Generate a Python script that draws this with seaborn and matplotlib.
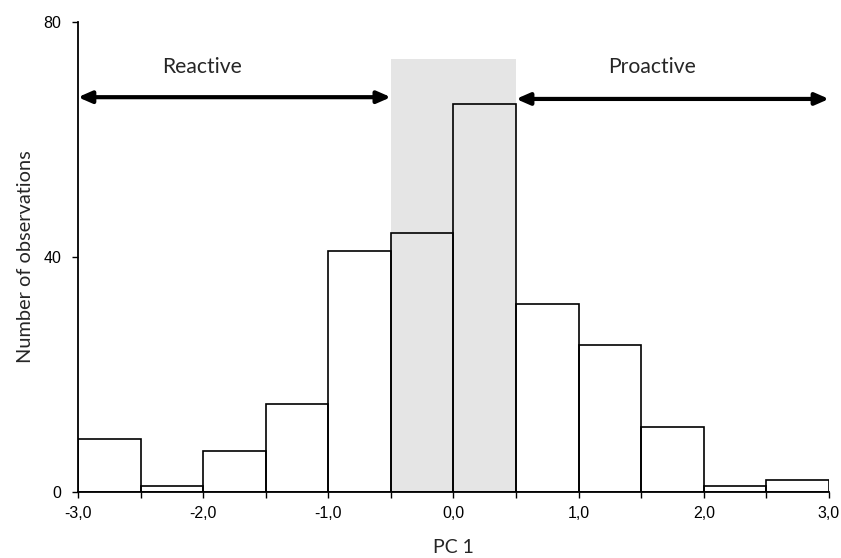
import matplotlib
matplotlib.use("Agg")
import matplotlib.pyplot as plt
import seaborn as sns
import numpy as np

# histogram of PC 1 scores (bin width 0.5)
bin_edges = [-3.0, -2.5, -2.0, -1.5, -1.0, -0.5, 0.0, 0.5, 1.0, 1.5, 2.0, 2.5, 3.0]
counts = [9, 1, 7, 15, 41, 44, 66, 32, 25, 11, 1, 2]

tick_values = [-3, -2, -1, 0, 1, 2, 3]
tick_labels = ["-3,0", "-2,0", "-1,0", "0,0", "1,0", "2,0", "3,0"]
y_ticks = [0, 40, 80]

# shaded intermediate zone and the two arrows
shade_range = [-0.5, 0.5]
shade_top = 73.7
reactive_span = [-3.0, -0.5]
proactive_span = [0.5, 3.0]
arrow_y = [67.2, 66.9]
label_x = [-2.01, 1.59]
label_y = 72.3

sns.set_style("white")
plt.rcParams['font.family'] = ['Liberation Sans', 'DejaVu Sans']

fig = plt.figure(figsize=(8.41, 5.58), dpi=100)
ax = fig.add_axes([0.0927, 0.1183, 0.8930, 0.8423])

# grey band behind the middle bars
ax.fill_between(shade_range, 0, shade_top, color="#e5e5e5", lw=0, zorder=0)

centers = (np.array(bin_edges[:-1]) + np.array(bin_edges[1:])) / 2
sns.histplot(x=centers, weights=counts, bins=bin_edges, fill=False,
             element="bars", color="black", linewidth=1.2, ax=ax, zorder=2)

ax.set_xlim(-3, 3)
ax.set_ylim(0, 80)

ax.set_xticks(bin_edges)
ax.set_xticklabels([tick_labels[tick_values.index(int(v))] if float(v).is_integer() else ""
                    for v in bin_edges])
ax.set_yticks(y_ticks)
ax.set_yticklabels([str(v) for v in y_ticks])
ax.tick_params(axis="both", direction="out", length=4, width=1, colors="black",
               labelsize=11.5, bottom=True, left=True)
ax.tick_params(axis="x", pad=6)
ax.tick_params(axis="y", pad=8)

sns.despine(ax=ax)
for side in ["left", "bottom"]:
    ax.spines[side].set_color("black")
    ax.spines[side].set_linewidth(1.3)

label_font = ['Lato', 'DejaVu Sans']
ax.set_xlabel("PC 1", fontsize=14, family=label_font, labelpad=13)
ax.set_ylabel("Number of observations", fontsize=14.4, family=label_font, labelpad=7)

# arrows
for span, y in zip([reactive_span, proactive_span], arrow_y):
    ax.annotate("", xy=(span[0], y), xytext=(span[1], y),
                arrowprops=dict(arrowstyle="<|-|>,head_length=0.8,head_width=0.35",
                                color="black", lw=3, shrinkA=0, shrinkB=0),
                zorder=3)

ax.text(label_x[0], label_y, "Reactive", fontsize=15.2, family=label_font,
        ha="center", va="center")
ax.text(label_x[1], label_y, "Proactive", fontsize=15.2, family=label_font,
        ha="center", va="center")

plt.savefig("out.png", dpi=100)
plt.close()
